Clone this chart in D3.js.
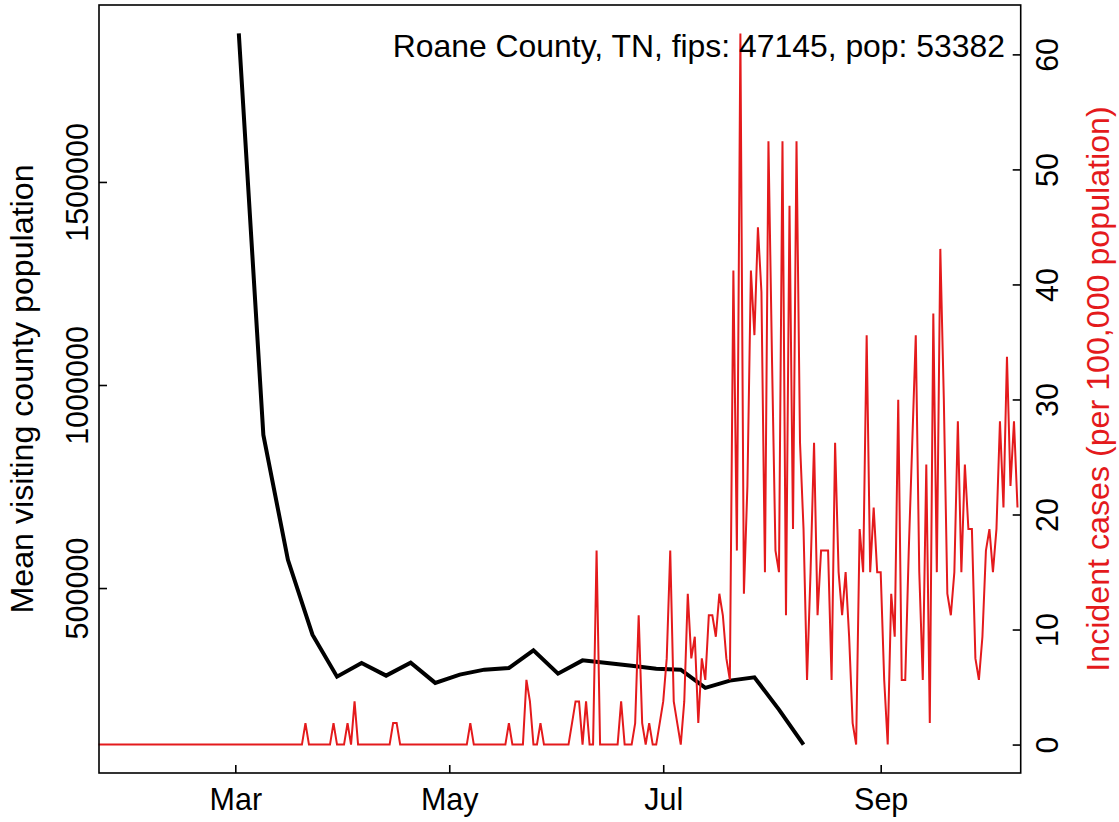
<!DOCTYPE html>
<html>
<head>
<meta charset="utf-8">
<script src="https://cdn.jsdelivr.net/npm/d3@7"></script>
<style>
  html, body { margin: 0; padding: 0; background: #fff; }
  svg { display: block; }
  text { font-family: "Liberation Sans", Arial, sans-serif; }
</style>
</head>
<body>
<svg id="chart" width="1119" height="822"></svg>
<script>
// ---------------- data ----------------
const titleText = "Roane County, TN, fips: 47145, pop: 53382";
const leftAxisTitle = "Mean visiting county population";
const rightAxisTitle = "Incident cases (per 100,000 population)";

// weekly mean visiting county population (black line)
const mobilityDates = [
  "2020-03-02","2020-03-09","2020-03-16","2020-03-23","2020-03-30","2020-04-06",
  "2020-04-13","2020-04-20","2020-04-27","2020-05-04","2020-05-11","2020-05-18",
  "2020-05-25","2020-06-01","2020-06-08","2020-06-15","2020-06-22","2020-06-29",
  "2020-07-06","2020-07-13","2020-07-20","2020-07-27","2020-08-03","2020-08-10"
];
const mobilityValues = [
  1865700, 877000, 569600, 385100, 281800, 315500,
  284300, 316300, 266400, 286800, 299100, 303200,
  346500, 289200, 321900, 315500, 308900, 301500,
  299100, 254100, 272000, 280100, 200700, 114600
];

// daily incident cases per 100,000 (red line), first day:
const incidentStart = "2020-01-22";
const incidentRates = [
  0,0,0,0,0,0,0,0,0,0,
  0,0,0,0,0,0,0,0,0,0,
  0,0,0,0,0,0,0,0,0,0,
  0,0,0,0,0,0,0,0,0,0,
  0,0,0,0,0,0,0,0,0,0,
  0,0,0,0,0,0,0,0,0,1.87,
  0,0,0,0,0,0,0,1.87,0,0,
  0,1.87,0,3.75,0,0,0,0,0,0,
  0,0,0,0,1.87,1.87,0,0,0,0,
  0,0,0,0,0,0,0,0,0,0,
  0,0,0,0,0,0,1.87,0,0,0,
  0,0,0,0,0,0,0,1.87,0,0,
  0,0,5.62,3.75,0,0,1.87,0,0,0,
  0,0,0,0,0,1.87,3.75,3.75,0,3.75,
  0,0,16.86,0,0,0,0,0,0,3.75,
  0,0,0,1.87,11.24,1.87,0,1.87,0,0,
  1.87,3.75,7.49,16.86,3.75,1.87,0,3.75,13.11,7.49,
  9.37,1.87,7.49,5.62,11.24,11.24,9.37,13.11,11.24,7.49,
  5.62,41.21,16.86,61.82,13.11,22.48,41.21,35.59,44.96,39.34,
  14.99,52.45,33.72,16.86,14.99,52.45,11.24,46.83,18.73,52.45,
  26.23,18.73,5.62,14.99,26.23,11.24,16.86,16.86,16.86,5.62,
  26.23,14.99,11.24,14.99,9.37,1.87,0,18.73,14.99,35.59,
  14.99,20.61,14.99,14.99,5.62,0,13.11,9.37,29.97,5.62,
  5.62,16.86,26.23,35.59,14.99,5.62,24.35,1.87,37.47,14.99,
  43.09,29.97,13.11,11.24,14.99,28.10,14.99,24.35,18.73,18.73,
  7.49,5.62,9.37,16.86,18.73,14.99,18.73,28.10,20.61,33.72,
  22.48,28.10,20.61
];

// axis ticks
const xTickDates = ["2020-03-01","2020-05-01","2020-07-01","2020-09-01"];
const xTickLabels = ["Mar","May","Jul","Sep"];
const leftTicks = [500000, 1000000, 1500000];
const rightTicks = [0, 10, 20, 30, 40, 50, 60];

// ---------------- drawing ----------------
const parse = d3.utcParse("%Y-%m-%d");
const svg = d3.select("#chart");
const plot = { left: 99, right: 1020.7, top: 5, bottom: 773 };
const red = "#e41a1c";

const redData = incidentRates.map((v, i) => ({ date: d3.utcDay.offset(parse(incidentStart), i), v }));
const blackData = mobilityDates.map((d, i) => ({ date: parse(d), v: mobilityValues[i] }));

const x = d3.scaleUtc()
  .domain([parse("2020-01-22"), parse("2020-10-11")])
  .range([98.5, 1021]);

function padded(ext) {
  const s = ext[1] - ext[0];
  return [ext[0] - 0.04 * s, ext[1] + 0.04 * s];
}
const yL = d3.scaleLinear().domain(padded(d3.extent(mobilityValues))).range([plot.bottom, plot.top]);
const yR = d3.scaleLinear().domain(padded(d3.extent(incidentRates))).range([plot.bottom, plot.top]);

// black line
svg.append("path")
  .datum(blackData)
  .attr("fill", "none")
  .attr("stroke", "#000")
  .attr("stroke-width", 4)
  .attr("stroke-linejoin", "miter")
  .attr("d", d3.line().x(d => x(d.date)).y(d => yL(d.v)));

// red line
svg.append("path")
  .datum(redData)
  .attr("fill", "none")
  .attr("stroke", red)
  .attr("stroke-width", 2)
  .attr("stroke-linejoin", "miter")
  .attr("d", d3.line().x(d => x(d.date)).y(d => yR(d.v)));

// box
svg.append("rect")
  .attr("x", plot.left).attr("y", plot.top)
  .attr("width", plot.right - plot.left).attr("height", plot.bottom - plot.top)
  .attr("fill", "none").attr("stroke", "#000").attr("stroke-width", 1.6);

const fontTick = 30.5;

// bottom axis
const gx = svg.append("g").attr("transform", `translate(0,${plot.bottom})`)
  .call(d3.axisBottom(x).tickValues(xTickDates.map(parse)).tickSize(-8)
    .tickFormat((d, i) => xTickLabels[i]));
gx.select(".domain").remove();
gx.selectAll("line").attr("stroke-width", 1.6);
gx.selectAll("text").attr("y", 37).attr("dy", null)
  .attr("font-size", fontTick).attr("fill", "#000")
  .attr("font-family", "Liberation Sans, Arial, sans-serif");

// left axis
const gl = svg.append("g").attr("transform", `translate(${plot.left},0)`)
  .call(d3.axisLeft(yL).tickValues(leftTicks).tickSize(-8).tickFormat(d3.format("d")));
gl.select(".domain").remove();
gl.selectAll("line").attr("stroke-width", 1.6);
gl.selectAll("text")
  .attr("x", 0).attr("y", -11).attr("dy", null)
  .attr("text-anchor", "middle").attr("transform", "rotate(-90)")
  .attr("font-size", fontTick).attr("fill", "#000")
  .attr("font-family", "Liberation Sans, Arial, sans-serif");

// right axis
const gr = svg.append("g").attr("transform", `translate(${plot.right},0)`)
  .call(d3.axisRight(yR).tickValues(rightTicks).tickSize(-8).tickFormat(d3.format("d")));
gr.select(".domain").remove();
gr.selectAll("line").attr("stroke-width", 1.6);
gr.selectAll("text")
  .attr("x", 0).attr("y", 37.3).attr("dy", null)
  .attr("text-anchor", "middle").attr("transform", "rotate(-90)")
  .attr("font-size", fontTick).attr("fill", "#000")
  .attr("font-family", "Liberation Sans, Arial, sans-serif");

// axis titles
const midY = (plot.top + plot.bottom) / 2;
svg.append("text")
  .attr("transform", `translate(33,${midY}) rotate(-90)`)
  .attr("text-anchor", "middle").attr("font-size", 32.2).attr("fill", "#000")
  .text(leftAxisTitle);
svg.append("text")
  .attr("transform", `translate(1109,${midY}) rotate(-90)`)
  .attr("text-anchor", "middle").attr("font-size", 32.2).attr("fill", red)
  .text(rightAxisTitle);

// title inside plot
svg.append("text")
  .attr("x", 1005).attr("y", 56.5)
  .attr("text-anchor", "end").attr("font-size", 31.9).attr("fill", "#000")
  .text(titleText);
</script>
</body>
</html>
